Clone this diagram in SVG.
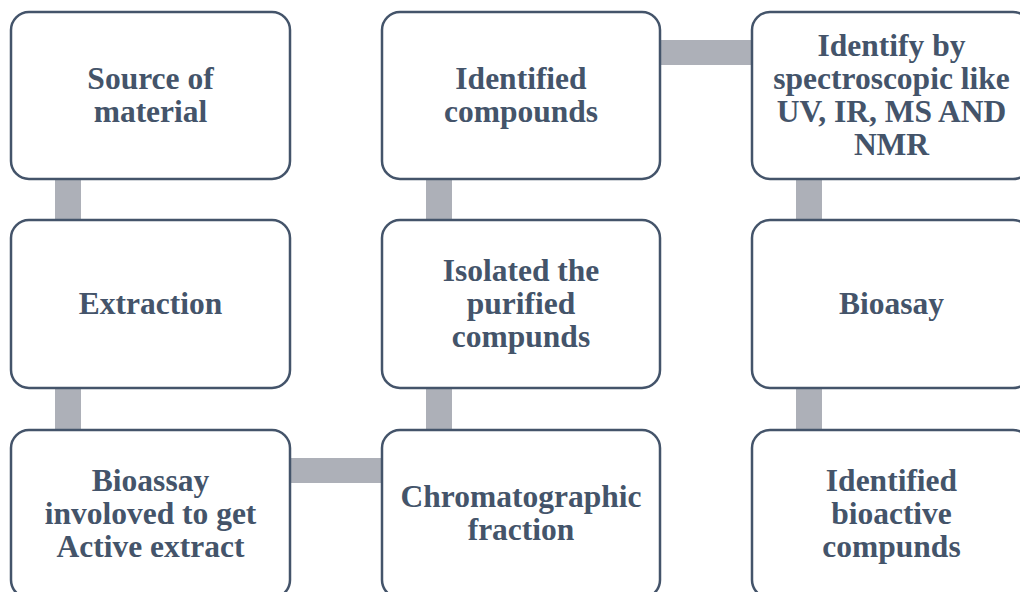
<svg xmlns="http://www.w3.org/2000/svg" width="1020" height="592" viewBox="0 0 1020 592">
  <style>
    .box { fill: #ffffff; stroke: #44546a; stroke-width: 2.5; }
    .lbl { font-family: "Liberation Serif", "Times New Roman", serif; font-weight: bold; font-size: 31.5px; fill: #44546a; text-anchor: middle; }
    .bar { fill: #adb0b8; }
  </style>
  <rect width="1020" height="592" fill="#ffffff"/>

  <!-- connectors: thick grey bars linking the process steps -->
  <g id="connectors">
    <rect class="bar" x="55" y="178" width="26" height="44"/>
    <rect class="bar" x="55" y="387" width="26" height="45"/>
    <rect class="bar" x="289" y="458" width="94" height="25"/>
    <rect class="bar" x="426" y="387" width="26" height="45"/>
    <rect class="bar" x="426" y="178" width="26" height="44"/>
    <rect class="bar" x="659" y="40" width="94" height="25"/>
    <rect class="bar" x="796" y="178" width="26" height="44"/>
    <rect class="bar" x="796" y="387" width="26" height="45"/>
  </g>

  <!-- column 1 -->
  <g id="source">
    <rect class="box" x="11" y="12" width="279" height="167" rx="18"/>
    <text class="lbl" x="150.5" y="88.5">Source of</text>
    <text class="lbl" x="150.5" y="121.5">material</text>
  </g>
  <g id="extraction">
    <rect class="box" x="11" y="220" width="279" height="168" rx="18"/>
    <text class="lbl" x="150.5" y="313.5">Extraction</text>
  </g>
  <g id="bioassay-extract">
    <rect class="box" x="11" y="430" width="279" height="168" rx="18"/>
    <text class="lbl" x="150.5" y="490.5">Bioassay</text>
    <text class="lbl" x="150.5" y="523.5">involoved to get</text>
    <text class="lbl" x="150.5" y="556.5">Active extract</text>
  </g>

  <!-- column 2 -->
  <g id="identified-compounds">
    <rect class="box" x="382" y="12" width="278" height="167" rx="18"/>
    <text class="lbl" x="521" y="88.5">Identified</text>
    <text class="lbl" x="521" y="121.5">compounds</text>
  </g>
  <g id="isolated">
    <rect class="box" x="382" y="220" width="278" height="168" rx="18"/>
    <text class="lbl" x="521" y="280.5">Isolated the</text>
    <text class="lbl" x="521" y="313.5">purified</text>
    <text class="lbl" x="521" y="346.5">compunds</text>
  </g>
  <g id="chromatographic">
    <rect class="box" x="382" y="430" width="278" height="168" rx="18"/>
    <text class="lbl" x="521" y="506.5">Chromatographic</text>
    <text class="lbl" x="521" y="539.5">fraction</text>
  </g>

  <!-- column 3 -->
  <g id="spectroscopy">
    <rect class="box" x="752" y="12" width="279" height="167" rx="18"/>
    <text class="lbl" x="891.5" y="55.5">Identify by</text>
    <text class="lbl" x="891.5" y="88.5">spectroscopic like</text>
    <text class="lbl" x="891.5" y="121.5">UV, IR, MS AND</text>
    <text class="lbl" x="891.5" y="154.5">NMR</text>
  </g>
  <g id="bioasay">
    <rect class="box" x="752" y="220" width="279" height="168" rx="18"/>
    <text class="lbl" x="891.5" y="313.5">Bioasay</text>
  </g>
  <g id="bioactive">
    <rect class="box" x="752" y="430" width="279" height="168" rx="18"/>
    <text class="lbl" x="891.5" y="490.5">Identified</text>
    <text class="lbl" x="891.5" y="523.5">bioactive</text>
    <text class="lbl" x="891.5" y="556.5">compunds</text>
  </g>
</svg>
